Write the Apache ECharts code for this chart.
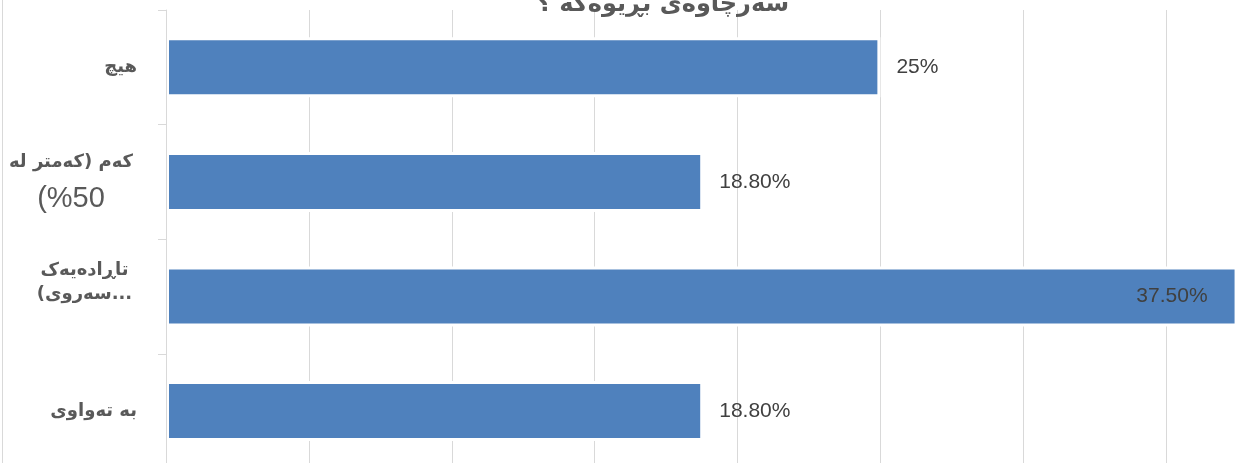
<!DOCTYPE html>
<html>
<head>
<meta charset="utf-8">
<script src="https://cdn.jsdelivr.net/npm/echarts@6/dist/echarts.min.js"></script>
<style>
  html, body { margin: 0; padding: 0; background: #fff; overflow: hidden; }
  #wrap { position: relative; width: 1239px; height: 463px; overflow: hidden; }
  #edge { position: absolute; left: 2px; top: 0; width: 1px; height: 463px; background: #d9d9d9; }
  #chart { position: absolute; left: 0; top: 0; width: 1330px; height: 480px; }
</style>
</head>
<body>
<div id="wrap"><div id="edge"></div><div id="chart"></div></div>
<script>
// ---- data (bottom to top, as the category axis draws them) ----
const titleText = 'سەرچاوەی بڕیوەکە ؟';
const categories = ['بە تەواوی', 'تاڕادەیەک\n(سەروی...', 'کەم (کەمتر لە\n%50)', 'هیچ'];
const values = [18.8, 37.5, 18.8, 25];
const valueLabels = ['18.80%', '37.50%', '18.80%', '25%'];
const xTicks = [0, 5, 10, 15, 20, 25, 30, 35, 40];

const RLE = '\u202B', PDF = '\u202C';
const gray = '#595959';
const arab = { fontFamily: 'DejaVu Sans', fontWeight: 'bold', fontSize: 18, color: gray };
const num = { fontFamily: 'Liberation Sans', fontWeight: 'normal', fontSize: 29, color: gray };

const chart = echarts.init(document.getElementById('chart'), null, { renderer: 'canvas' });
chart.setOption({
  animation: false,
  backgroundColor: 'transparent',
  title: {
    text: RLE + titleText + PDF,
    left: 532,
    top: -12,
    textStyle: { fontFamily: 'DejaVu Sans', fontWeight: 'bold', fontSize: 24, color: gray }
  },
  grid: { left: 166, top: 10, width: 1143, height: 458.4, containLabel: false },
  xAxis: {
    type: 'value',
    min: xTicks[0],
    max: xTicks[xTicks.length - 1],
    interval: xTicks[1] - xTicks[0],
    axisLabel: { show: false },
    axisLine: { show: false },
    axisTick: { show: false },
    splitLine: { show: true, lineStyle: { color: '#d9d9d9', width: 1 } }
  },
  yAxis: {
    type: 'category',
    data: categories,
    z: 5,
    axisLine: { show: true, lineStyle: { color: '#d9d9d9', width: 1 } },
    axisTick: { show: true, length: 8, lineStyle: { color: '#d9d9d9', width: 1 } },
    axisLabel: {
      margin: 29,
      align: 'right',
      verticalAlign: 'middle',
      formatter: function (v) {
        const lines = v.split('\n');
        if (lines.length === 1) return '{a|' + v + '}';
        if (/[0-9]/.test(lines[1])) {
          return '{b2|' + lines[0] + '}\n{n2|' + RLE + lines[1] + PDF + '}';
        }
        return '{b3|' + lines[0] + '}\n{c3|' + lines[1] + '}\n{e| }';
      },
      rich: {
        a: Object.assign({}, arab),
        b2: Object.assign({}, arab, { width: 132, align: 'center', lineHeight: 34 }),
        n2: Object.assign({}, num, { width: 132, align: 'center', lineHeight: 40 }),
        b3: Object.assign({}, arab, { width: 105, align: 'center', lineHeight: 24 }),
        c3: Object.assign({}, arab, { width: 105, align: 'center', lineHeight: 24 }),
        e: Object.assign({}, arab, { lineHeight: 28 })
      }
    }
  },
  series: [{
    type: 'bar',
    data: values.map(function (v) {
      const item = { value: v };
      if (v === Math.max.apply(null, values)) {
        item.label = { position: 'insideRight', distance: 30 };
      }
      return item;
    }),
    barWidth: 60,
    itemStyle: { color: '#4F81BD', borderColor: '#ffffff', borderWidth: 3 },
    label: {
      show: true,
      position: 'right',
      distance: 16,
      formatter: function (p) { return valueLabels[p.dataIndex]; },
      fontFamily: 'Liberation Sans',
      fontSize: 21,
      color: '#404040'
    }
  }]
});
</script>
</body>
</html>
